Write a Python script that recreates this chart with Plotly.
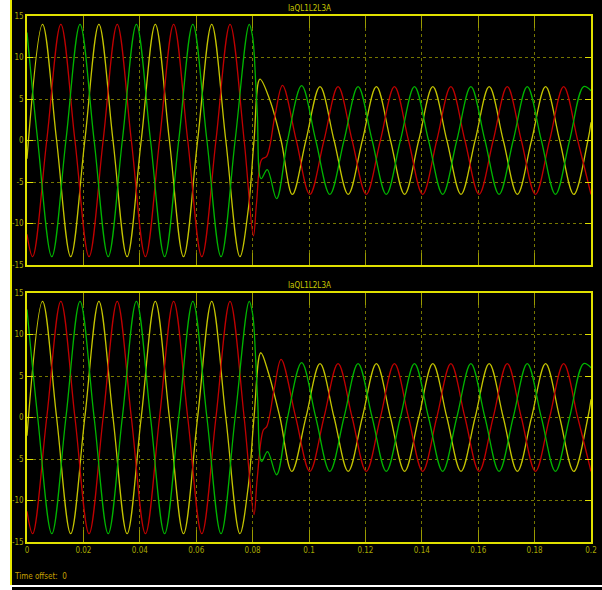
import plotly.graph_objects as go

# ---------------- data ----------------
# pre-fault (0 .. 0.08 s) key points: peaks, troughs, zero crossings (A)
yel_pre_t = [0, 0.0055, 0.0105, 0.0155, 0.0205, 0.0255, 0.0305, 0.0355, 0.0405,
             0.0455, 0.0505, 0.0555, 0.0605, 0.0655, 0.0705, 0.0755, 0.0785]
yel_pre_v = [-2.2, 14, 0, -14, 0, 14, 0, -14, 0, 14, 0, -14, 0, 14, 0, -14, -8.2]

red_pre_t = [0, 0.002, 0.007, 0.012, 0.017, 0.022, 0.027, 0.032, 0.037,
             0.042, 0.047, 0.052, 0.057, 0.062, 0.067, 0.072, 0.077]
red_pre_v = [-11.3, -14, 0, 14, 0, -14, 0, 14, 0, -14, 0, 14, 0, -14, 0, 14, 0]

grn_pre_t = [0, 0.0038, 0.0088, 0.0138, 0.0188, 0.0238, 0.0288, 0.0338, 0.0388,
             0.0438, 0.0488, 0.0538, 0.0588, 0.0638, 0.0688, 0.0738, 0.0788]
grn_pre_v = [13.0, 0, -14, 0, 14, 0, -14, 0, 14, 0, -14, 0, 14, 0, -14, 0, 14]

# steady post-fault key points (to 0.2 s)
yel_post_t = [0.0989, 0.1039, 0.1089, 0.1139, 0.1189, 0.1239, 0.1289, 0.1339, 0.1389,
              0.1439, 0.1489, 0.1539, 0.1589, 0.1639, 0.1689, 0.1739, 0.1789, 0.1839,
              0.1889, 0.1939, 0.1989, 0.2]
yel_post_v = [0, 6.5, 0, -6.5, 0, 6.5, 0, -6.5, 0, 6.5, 0, -6.5, 0, 6.5, 0, -6.5, 0, 6.5,
              0, -6.5, 0, 2.2]

red_post_t = [0.1003, 0.1053, 0.1103, 0.1153, 0.1203, 0.1253, 0.1303, 0.1353, 0.1403,
              0.1453, 0.1503, 0.1553, 0.1603, 0.1653, 0.1703, 0.1753, 0.1803, 0.1853,
              0.1903, 0.1953, 0.2]
red_post_v = [-6.5, 0, 6.5, 0, -6.5, 0, 6.5, 0, -6.5, 0, 6.5, 0, -6.5, 0, 6.5, 0, -6.5, 0,
              6.5, 0, -6.5]

grn_post_t = [0.0924, 0.0974, 0.1024, 0.1074, 0.1124, 0.1174, 0.1224, 0.1274, 0.1324,
              0.1374, 0.1424, 0.1474, 0.1524, 0.1574, 0.1624, 0.1674, 0.1724, 0.1774,
              0.1824, 0.1874, 0.1924, 0.1974, 0.2]
grn_post_v = [0, 6.6, 0, -6.5, 0, 6.5, 0, -6.5, 0, 6.5, 0, -6.5, 0, 6.5, 0, -6.5, 0, 6.5,
              0, -6.5, 0, 6.5, 6.0]

# fault transient (0.08 .. ~0.1 s), upper scope
yel_tr1_t = [0.0805, 0.0826, 0.0862, 0.0901, 0.0941]
yel_tr1_v = [0, 7.4, 4.8, 0, -6.5]
red_tr1_t = [0.0803, 0.0814, 0.0832, 0.0850, 0.0879, 0.0906, 0.0955]
red_tr1_v = [-11.5, -7.5, -2.3, -1.9, 2.95, 6.65, 0]
grn_tr1_t = [0.0800, 0.0811, 0.0817, 0.0830, 0.0852, 0.0885]
grn_tr1_v = [12.5, 7.0, 3.0, -4.6, -3.5, -7.0]

# fault transient, lower scope
yel_tr2_t = [0.0805, 0.0829, 0.0856, 0.0897, 0.0939]
yel_tr2_v = [0, 7.8, 5.4, 0, -6.5]
red_tr2_t = [0.0805, 0.0816, 0.0838, 0.0850, 0.0877, 0.0901, 0.0953]
red_tr2_v = [-11.7, -7.5, -1.5, -1.1, 3.5, 7.0, 0]
grn_tr2_t = [0.0800, 0.0811, 0.0818, 0.0832, 0.0853, 0.0885]
grn_tr2_v = [12.5, 7.0, 2.0, -5.3, -4.1, -6.9]

x_ticks = [0, 0.02, 0.04, 0.06, 0.08, 0.1, 0.12, 0.14, 0.16, 0.18, 0.2]
x_tick_text = ["0", "0.02", "0.04", "0.06", "0.08", "0.1", "0.12", "0.14", "0.16", "0.18", "0.2"]
y_ticks = [-15, -10, -5, 0, 5, 10, 15]
y_tick_text = ["-15", "-10", "-5", "0", "5", "10", "15"]
scope_title = "IaQL1L2L3A"
time_offset_text = "Time offset:  0"

# ---------------- styling ----------------
W, H = 602, 590
ML, MR, MT, MB = 27, 11, 16, 48
PW, PH = W - ML - MR, H - MT - MB
COL_Y, COL_R, COL_G = "#c4c400", "#c00000", "#00b400"
AXC, GRIDC, TICKC, LABC = "#e0e000", "#767600", "#9a9a00", "#a8a800"
FONT = "Liberation Sans Narrow, DejaVu Sans Condensed, Arial Narrow, sans-serif"


def px_x(p):
    return (p - ML) / PW


def px_y(p):
    return (H - MB - p) / PH


fig = go.Figure()

scopes = [
    ("x", "y", (yel_tr1_t, yel_tr1_v), (red_tr1_t, red_tr1_v), (grn_tr1_t, grn_tr1_v)),
    ("x2", "y2", (yel_tr2_t, yel_tr2_v), (red_tr2_t, red_tr2_v), (grn_tr2_t, grn_tr2_v)),
]
for xa, ya, ytr, rtr, gtr in scopes:
    series = [
        (yel_pre_t + ytr[0] + yel_post_t, yel_pre_v + ytr[1] + yel_post_v, COL_Y),
        (red_pre_t + rtr[0] + red_post_t, red_pre_v + rtr[1] + red_post_v, COL_R),
        (grn_pre_t + gtr[0] + grn_post_t, grn_pre_v + gtr[1] + grn_post_v, COL_G),
    ]
    for t, v, c in series:
        fig.add_trace(go.Scatter(x=t, y=v, mode="lines", xaxis=xa, yaxis=ya,
                                 line=dict(color=c, width=1.3, shape="spline", smoothing=1.0),
                                 hoverinfo="skip", showlegend=False))

top_dom = [px_y(265), 1.0]
bot_dom = [0.0, px_y(293)]

xcommon = dict(range=[0, 0.2], tickvals=x_ticks, ticktext=x_tick_text, automargin=False,
               showgrid=True, gridcolor=GRIDC, griddash="dot", gridwidth=1,
               zeroline=False, showline=True, linecolor=AXC, linewidth=1.5, mirror="ticks",
               ticks="inside", ticklen=12, tickcolor=TICKC, tickwidth=1,
               tickfont=dict(family=FONT, size=8, color=LABC))
ycommon = dict(range=[-15, 15], tickvals=y_ticks, ticktext=y_tick_text, automargin=False,
               showgrid=True, gridcolor=GRIDC, griddash="dot", gridwidth=1,
               zeroline=False, showline=True, linecolor=AXC, linewidth=1.5, mirror="ticks",
               ticks="inside", ticklen=6, tickcolor=AXC, tickwidth=1,
               tickfont=dict(family=FONT, size=8, color=LABC))

fig.update_layout(
    width=W, height=H,
    margin=dict(l=ML, r=MR, t=MT, b=MB, pad=0, autoexpand=False),
    paper_bgcolor="white", plot_bgcolor="black",
    xaxis=dict(xcommon, domain=[0, 1], anchor="y", showticklabels=False),
    yaxis=dict(ycommon, domain=top_dom, anchor="x"),
    xaxis2=dict(xcommon, domain=[0, 1], anchor="y2", matches="x"),
    yaxis2=dict(ycommon, domain=bot_dom, anchor="x2"),
    showlegend=False,
)

shapes = [
    # black scope window body
    dict(type="rect", xref="paper", yref="paper", x0=px_x(12), x1=px_x(W + 4),
         y0=px_y(585), y1=px_y(-4), fillcolor="#000000", line=dict(width=0), layer="below"),
    dict(type="rect", xref="paper", yref="paper", x0=px_x(12), x1=px_x(W + 4),
         y0=px_y(H + 4), y1=px_y(587), fillcolor="#000000", line=dict(width=0), layer="below"),
    # yellow left edge
    dict(type="rect", xref="paper", yref="paper", x0=px_x(10), x1=px_x(12),
         y0=px_y(585), y1=px_y(-4), fillcolor="#e6e600", line=dict(width=0), layer="below"),
]
fig.update_layout(shapes=shapes)

fig.add_annotation(x=0.5, y=px_y(8), xref="paper", yref="paper", text=scope_title,
                   showarrow=False, font=dict(family=FONT, size=8, color="#c8c800"),
                   xanchor="center", yanchor="middle")
fig.add_annotation(x=0.5, y=px_y(285), xref="paper", yref="paper", text=scope_title,
                   showarrow=False, font=dict(family=FONT, size=8, color="#c8c800"),
                   xanchor="center", yanchor="middle")
fig.add_annotation(x=px_x(12), y=px_y(576), xref="paper", yref="paper", text=time_offset_text,
                   showarrow=False, font=dict(family=FONT, size=8, color="#c8a000"),
                   xanchor="left", yanchor="middle")

fig.write_html("out.html", config={"displayModeBar": False, "responsive": False},
               post_script="document.body.style.margin='0';document.body.style.padding='0';"
                           "document.body.style.overflow='hidden';")
